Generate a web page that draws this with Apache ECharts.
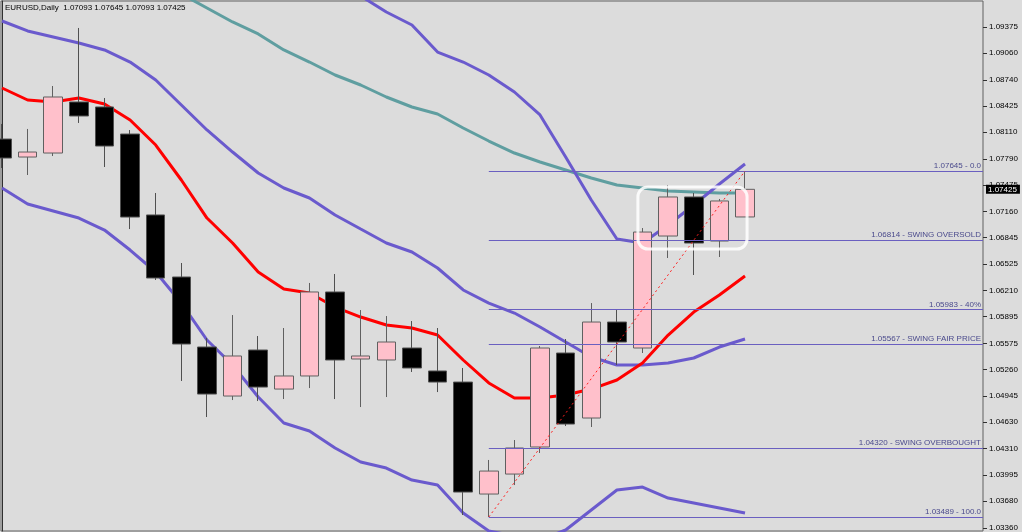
<!DOCTYPE html>
<html><head><meta charset="utf-8">
<script src="https://cdn.jsdelivr.net/npm/echarts@6/dist/echarts.min.js"></script>
<style>html,body{margin:0;padding:0;background:#dcdcdc}#c{width:1022px;height:532px}</style>
</head><body><div id="c"></div>
<script>
// ---- data ----
const symbol = 'EURUSD';
const period = 'Daily';
const open  = [1.08029, 1.07813, 1.07861, 1.08474, 1.08414, 1.08089, 1.07117, 1.06372, 1.05531, 1.04942, 1.05495, 1.05026, 1.05183, 1.06192, 1.05387, 1.05375, 1.05519, 1.05243, 1.05110, 1.03765, 1.04005, 1.04330, 1.05459, 1.04678, 1.05831, 1.05519, 1.06864, 1.07333, 1.06804, 1.07093];
const close = [1.07801, 1.07873, 1.08534, 1.08306, 1.07945, 1.07092, 1.06360, 1.05567, 1.04966, 1.05423, 1.05050, 1.05183, 1.06192, 1.05375, 1.05423, 1.05591, 1.05279, 1.05110, 1.03789, 1.04041, 1.04318, 1.05519, 1.04606, 1.05831, 1.05591, 1.06912, 1.07333, 1.06780, 1.07285, 1.07425];
const low   = [1.07681, 1.07597, 1.07825, 1.08222, 1.07693, 1.06948, 1.06336, 1.05123, 1.04690, 1.04894, 1.04882, 1.04906, 1.05038, 1.04906, 1.04810, 1.04930, 1.05231, 1.04990, 1.03513, 1.03489, 1.03873, 1.04258, 1.04582, 1.04570, 1.05315, 1.05459, 1.06600, 1.06396, 1.06612, 1.07093];
const high  = [1.08210, 1.08150, 1.08666, 1.09363, 1.08522, 1.08137, 1.07381, 1.06540, 1.05639, 1.05915, 1.05663, 1.05759, 1.06300, 1.06408, 1.05975, 1.05903, 1.05843, 1.05759, 1.05279, 1.04174, 1.04414, 1.05543, 1.05627, 1.06059, 1.05987, 1.06960, 1.07477, 1.07381, 1.07309, 1.07645];

const bbMiddle = [1.09447, 1.09327, 1.09255, 1.09183, 1.09099, 1.08954, 1.08738, 1.08438, 1.08138, 1.07873, 1.07621, 1.07441, 1.07321, 1.07117, 1.06948, 1.06780, 1.06672, 1.06480, 1.06216, 1.06059, 1.05939, 1.05771, 1.05591, 1.05411, 1.05315, 1.05315, 1.05339, 1.05399, 1.05531, 1.05627];
const bbUpper  = [1.11453, 1.11405, 1.11345, 1.11285, 1.11261, 1.11213, 1.11044, 1.10780, 1.10540, 1.10372, 1.10312, 1.10264, 1.10120, 1.09915, 1.09747, 1.09555, 1.09399, 1.09074, 1.08954, 1.08798, 1.08594, 1.08318, 1.07813, 1.07297, 1.06828, 1.06780, 1.06996, 1.07237, 1.07489, 1.07729];
const bbLower  = [1.07441, 1.07249, 1.07165, 1.07080, 1.06936, 1.06696, 1.06432, 1.06059, 1.05615, 1.05315, 1.04930, 1.04618, 1.04522, 1.04318, 1.04150, 1.04077, 1.03933, 1.03873, 1.03537, 1.03321, 1.03261, 1.03213, 1.03333, 1.03573, 1.03813, 1.03849, 1.03717, 1.03657, 1.03597, 1.03537];
const maFast   = [1.08642, 1.08498, 1.08474, 1.08522, 1.08450, 1.08258, 1.07957, 1.07537, 1.07080, 1.06780, 1.06432, 1.06228, 1.06180, 1.06011, 1.05891, 1.05795, 1.05759, 1.05675, 1.05375, 1.05099, 1.04918, 1.04918, 1.04954, 1.05026, 1.05135, 1.05339, 1.05675, 1.05951, 1.06156, 1.06384];
const maSlow   = [1.10840, 1.10684, 1.10540, 1.10396, 1.10240, 1.10083, 1.09915, 1.09771, 1.09603, 1.09435, 1.09291, 1.09099, 1.08954, 1.08798, 1.08678, 1.08534, 1.08414, 1.08330, 1.08162, 1.08005, 1.07861, 1.07753, 1.07657, 1.07561, 1.07477, 1.07441, 1.07405, 1.07393, 1.07381, 1.07381];

const fibLevels = [1.07645, 1.06814, 1.05983, 1.05567, 1.04320, 1.03489];
const fibNames  = ['0.0', 'SWING OVERSOLD', '40%', 'SWING FAIR PRICE', 'SWING OVERBOUGHT', '100.0'];
const fibFrom   = 19;               // bar index of the swing low
const trendFrom = [19, 1.03489];    // swing low
const trendTo   = [29, 1.07645];    // swing high

const yTicks = [1.09375, 1.09060, 1.08740, 1.08425, 1.08110, 1.07790, 1.07475, 1.07160, 1.06845, 1.06525, 1.06210, 1.05895, 1.05575, 1.05260, 1.04945, 1.04630, 1.04310, 1.03995, 1.03680, 1.03360];

const boxX = [24.82, 29.08];        // highlighted consolidation (bar units)
const boxY = [1.06708, 1.07453];

// ---- view ----
const X_MIN = -0.039, X_MAX = 38.289;
const Y_MIN = 1.03321, Y_MAX = 1.09687;
const FONT = 'Liberation Sans';
const f5 = v => v.toFixed(5);

const idx = open.map((_, i) => i);
const candles = idx.map(i => [i, open[i], close[i], low[i], high[i]]);
const pts = arr => idx.map(i => [i, arr[i]]);
const last = open.length - 1;

const lineSeries = (data, color) => ({
  type: 'line', data: pts(data), symbol: 'none', showSymbol: false, z: 2,
  lineStyle: { color: color, width: 3 }, silent: true
});

const fibMarks = fibLevels.map((lv, k) => [
  { coord: [fibFrom, lv], label: { formatter: `${f5(lv)} - ${fibNames[k]}` } },
  { coord: [X_MAX, lv] }
]);

const chart = echarts.init(document.getElementById('c'));
chart.setOption({
  animation: false,
  backgroundColor: '#dcdcdc',
  title: {
    text: `${symbol},${period}  ${f5(open[last])} ${f5(high[last])} ${f5(low[last])} ${f5(close[last])}`,
    left: 5, top: 4, padding: 0,
    textStyle: { fontSize: 8, fontWeight: 'normal', color: '#000', fontFamily: FONT }
  },
  grid: { left: 1, right: 39, top: 1, bottom: 1, show: true, borderColor: '#606060', borderWidth: 1 },
  xAxis: { type: 'value', min: X_MIN, max: X_MAX, show: false },
  yAxis: [{
    type: 'value', position: 'right', min: Y_MIN, max: Y_MAX,
    splitLine: { show: false },
    axisLine: { show: true, lineStyle: { color: '#303030', width: 1 } },
    axisTick: { show: false },
    axisLabel: { customValues: yTicks, formatter: v => f5(v), fontSize: 8, color: '#000', margin: 6, fontFamily: FONT }
  }, {
    type: 'value', position: 'right', min: Y_MIN, max: Y_MAX,
    splitLine: { show: false },
    axisLine: { show: false },
    axisLabel: { show: false },
    axisTick: { show: true, inside: false, length: 4, lineStyle: { color: '#303030' }, customValues: yTicks }
  }],
  series: [
    lineSeries(maSlow, '#5f9ea0'),
    lineSeries(bbUpper, '#6a5acd'),
    lineSeries(bbMiddle, '#6a5acd'),
    lineSeries(bbLower, '#6a5acd'),
    lineSeries(maFast, '#ff0000'),
    {
      type: 'candlestick', data: candles, barWidth: 19, z: 3,
      itemStyle: { color: '#ffc0cb', color0: '#000000', borderColor: '#606060', borderColor0: '#505050', borderWidth: 1 }
    },
    {
      type: 'line', data: [trendFrom, trendTo], symbol: 'none', z: 5, silent: true,
      lineStyle: { color: '#ff2020', width: 1, type: [2, 3] },
      markLine: {
        silent: true, symbol: ['none', 'none'], animation: false,
        lineStyle: { color: '#6a5fc0', width: 1, type: 'solid' },
        label: { position: 'insideEndTop', distance: [2, 1], fontSize: 8, color: '#4a4a8c', fontFamily: FONT },
        data: fibMarks
      }
    }
  ]
});

const p0 = chart.convertToPixel({ gridIndex: 0 }, [boxX[0], boxY[1]]);
const p1 = chart.convertToPixel({ gridIndex: 0 }, [boxX[1], boxY[0]]);
const pc = chart.convertToPixel({ gridIndex: 0 }, [X_MAX, close[last]]);
chart.setOption({
  graphic: [{
    type: 'rect', z: 10, silent: true,
    shape: { x: p0[0], y: p0[1], width: p1[0] - p0[0], height: p1[1] - p0[1], r: 10 },
    style: { fill: 'none', stroke: 'rgba(255,255,255,0.85)', lineWidth: 3 }
  }, {
    type: 'text', z: 20, silent: true, x: pc[0] + 3, y: pc[1],
    style: {
      text: f5(close[last]), fill: '#fff', backgroundColor: '#000', padding: [1, 3, 0, 2],
      font: `8px "${FONT}"`, verticalAlign: 'middle', align: 'left'
    }
  }]
});
</script></body></html>
